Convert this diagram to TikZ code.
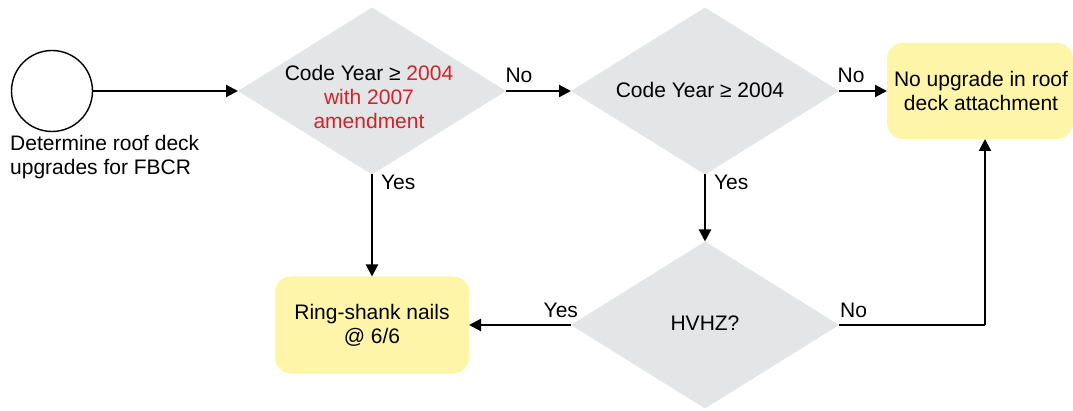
\documentclass[tikz,border=0pt]{standalone}
\usepackage{fontspec}
\setmainfont{Liberation Sans}
\usetikzlibrary{shapes.geometric,arrows.meta}
\definecolor{decgray}{HTML}{E4E5E7}
\definecolor{outyellow}{HTML}{FFF5A8}
\definecolor{hlred}{HTML}{D2232A}
\tikzset{
  dec/.style={diamond, fill=decgray, draw=none, inner sep=0pt, outer sep=0pt,
              minimum width=268pt, minimum height=167pt},
  outbox/.style={rectangle, rounded corners=16pt, fill=outyellow, draw=none,
                 inner sep=0pt, outer sep=0pt},
  txt/.style={align=center, inner sep=0pt, font=\fontsize{21}{24}\selectfont},
  lbl/.style={inner sep=0pt, font=\fontsize{21}{24}\selectfont},
  flow/.style={line width=2.1pt, -{Triangle[length=12pt,width=12pt]}},
  plain/.style={line width=2.1pt},
}
\begin{document}
\begin{tikzpicture}[x=1pt,y=-1pt]
\useasboundingbox (0,0) rectangle (1073,411);

% start marker and its caption
\node[circle, draw, line width=1.4pt, minimum size=81pt, inner sep=0pt] (start) at (52,91) {};
\node[txt, align=left, anchor=north west] (cap) at (10,135) {Determine roof deck\\upgrades for FBCR};

% decisions
\node[dec] (d1) at (372,91) {};
\node[txt] (d1t) at (369,97) {Code Year \char"2265{} \textcolor{hlred}{2004}\\\textcolor{hlred}{with 2007}\\\textcolor{hlred}{amendment}};

\node[dec] (d2) at (705,91) {};
\node[txt] (d2t) at (700,90) {Code Year \char"2265{} 2004};

\node[dec] (d3) at (705,325) {};
\node[txt] (d3t) at (705,323) {HVHZ?};

% outcomes
\node[outbox, minimum width=186pt, minimum height=96pt] (noup) at (980,91) {};
\node[txt] (noupt) at (981,91) {No upgrade in roof\\deck attachment};

\node[outbox, minimum width=194pt, minimum height=97pt] (nails) at (372,325) {};
\node[txt] (nailst) at (372,325) {Ring-shank nails\\@ 6/6};

% connectors
\draw[flow] (start.east) -- (d1.west);
\draw[flow] (d1.east) -- node[lbl, above=7pt, pos=0.2] {No} (d2.west);
\draw[flow] (d2.east) -- node[lbl, above=7pt, pos=0.25] {No} (noup.west);
\draw[flow] (d1.south) -- node[lbl, right=8pt, pos=0.08] {Yes} (nails.north);
\draw[flow] (d2.south) -- node[lbl, right=8pt, pos=0.12] {Yes} (d3.north);
\draw[flow] (d3.west) -- node[lbl, above=6pt, pos=0.1] {Yes} (nails.east);
\coordinate (elbow) at (985,325);
\draw[plain] (d3.east) -- node[lbl, above=6pt, pos=0.1] {No} (elbow);
\draw[flow] (elbow) -- (noup.south -| elbow);
\end{tikzpicture}
\end{document}
